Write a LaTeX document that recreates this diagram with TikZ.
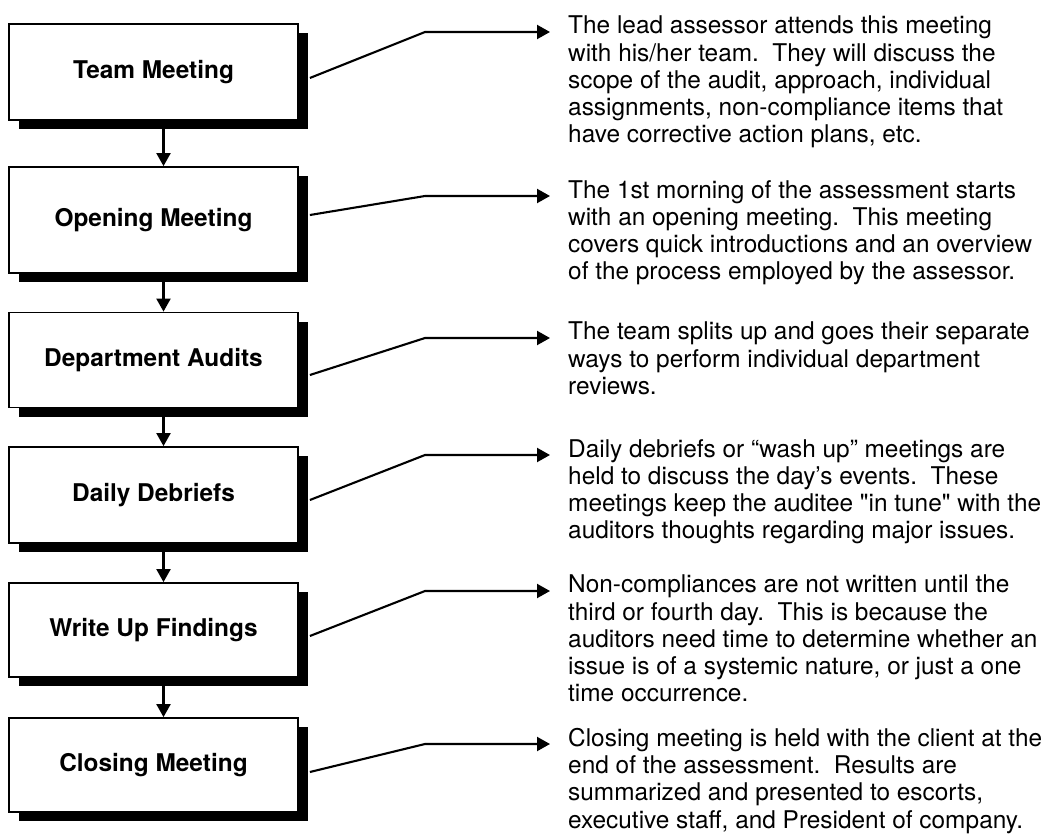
\documentclass[tikz,border=0pt]{standalone}
\usepackage{fontspec}
\setmainfont{TeX Gyre Heros}
\usetikzlibrary{arrows.meta,shadows}

\begin{document}
\begin{tikzpicture}[x=1pt,y=-1pt,
    stage/.style={draw,line width=1.8pt,fill=white,minimum width=289pt,inner sep=0pt,
      font=\fontsize{24.4}{27}\selectfont\bfseries,
      drop shadow={shadow xshift=10pt,shadow yshift=-9pt,opacity=1,fill=black}},
    note/.style={anchor=north west,align=left,inner sep=0pt,font=\fontsize{24.4}{27.2}\selectfont},
    conn/.style={line width=2.1pt,-{Triangle[length=13pt,width=14pt]}}]
    \useasboundingbox (0,0) rectangle (1056,834);
    % the six stages
    \node[stage,minimum height=96pt]  (team)    at (153.5,72)  {Team Meeting};
    \node[stage,minimum height=106pt] (opening) at (153.5,220) {Opening Meeting};
    \node[stage,minimum height=95pt]  (dept)    at (153.5,360) {Department Audits};
    \node[stage,minimum height=96pt]  (debrief) at (153.5,495) {Daily Debriefs};
    \node[stage,minimum height=94pt]  (writeup) at (153.5,630) {Write Up Findings};
    \node[stage,minimum height=94pt]  (closing) at (153.5,765) {Closing Meeting};
    % notes on the right (top of first line sits 16pt above its leader)
    \node[note] (teamtxt) at (568,16) {The lead assessor attends this meeting\\
      with his/her team.\ \ They will discuss the\\scope of the audit, approach, individual\\
      assignments, non-compliance items that\\have corrective action plans, etc.};
    \node[note] (openingtxt) at (568,180) {The 1st morning of the assessment starts\\
      with an opening meeting.\ \ This meeting\\covers quick introductions and an overview\\
      of the process employed by the assessor.};
    \node[note] (depttxt) at (568,322) {The team splits up and goes their separate\\
      ways to perform individual department\\reviews.};
    \node[note] (debrieftxt) at (568,439) {Daily debriefs or ``wash up'' meetings are\\
      held to discuss the day’s events.\ \ These\\meetings keep the auditee \textquotedbl in tune\textquotedbl{} with the\\
      auditors thoughts regarding major issues.};
    \node[note] (writeuptxt) at (568,575) {Non-compliances are not written until the\\
      third or fourth day.\ \ This is because the\\auditors need time to determine whether an\\
      issue is of a systemic nature, or just a one\\time occurrence.};
    \node[note] (closingtxt) at (568,728) {Closing meeting is held with the client at the\\
      end of the assessment.\ \ Results are\\summarized and presented to escorts,\\
      executive staff, and President of company.};
    % flow down the left
    \foreach \p/\q in {team/opening,opening/dept,dept/debrief,debrief/writeup,writeup/closing}
      \draw[conn] ([xshift=10pt]\p.south) -- ([xshift=10pt]\q.north);
    % leaders to the notes
    \foreach \b/\dy in {team/6,opening/-5,dept/15,debrief/5,writeup/6,closing/7}
      \draw[conn] ([shift={(11pt,-\dy pt)}]\b.east) -- ([shift={(-143pt,-16pt)}]\b txt.north west)
        -- ([shift={(-18pt,-16pt)}]\b txt.north west);
\end{tikzpicture}
\end{document}
